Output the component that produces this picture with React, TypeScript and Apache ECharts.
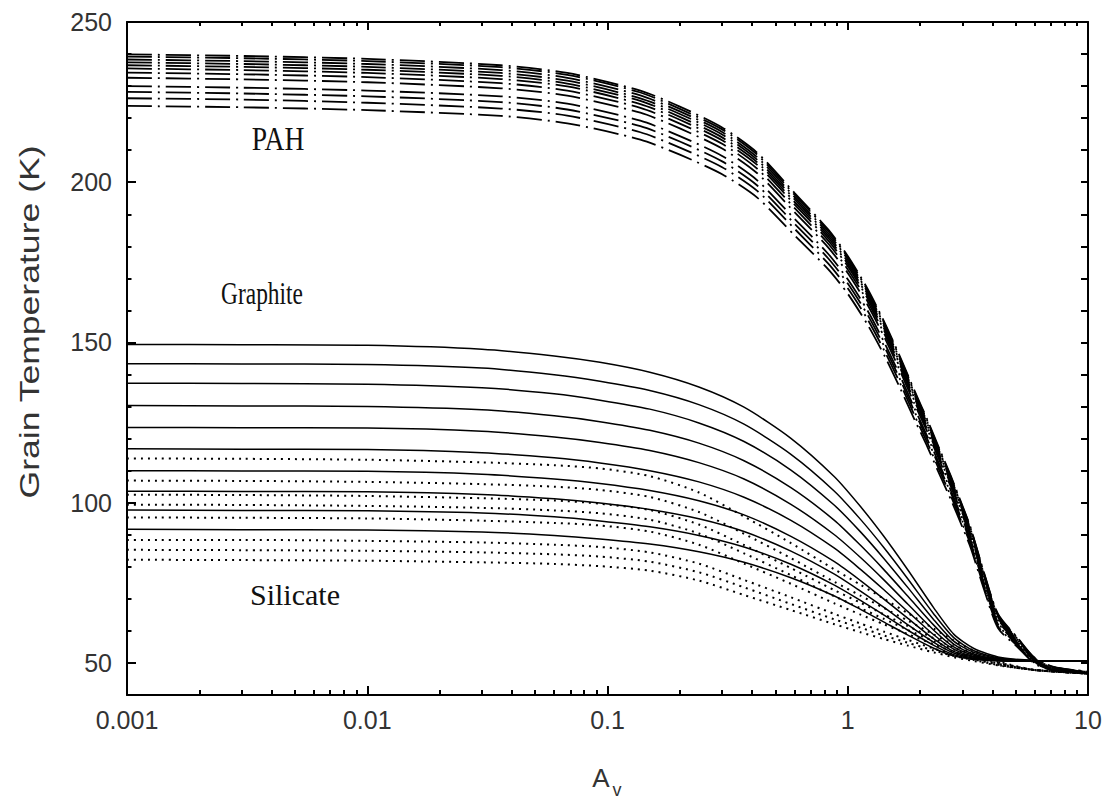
import React, { useEffect, useRef } from "react";
import * as echarts from "echarts";

// ---------- axis ticks ----------
const xMajorTicks = [0.001, 0.01, 0.1, 1, 10];
const xTickLabels = ["0.001", "0.01", "0.1", "1", "10"];
const xMinorTicks = [
  0.002, 0.003, 0.004, 0.005, 0.006, 0.007, 0.008, 0.009,
  0.02, 0.03, 0.04, 0.05, 0.06, 0.07, 0.08, 0.09,
  0.2, 0.3, 0.4, 0.5, 0.6, 0.7, 0.8, 0.9,
  2, 3, 4, 5, 6, 7, 8, 9,
];
const yMajorTicks = [50, 100, 150, 200, 250];
const yMinorTicks = [40, 60, 70, 80, 90, 110, 120, 130, 140, 160, 170, 180, 190, 210, 220, 230, 240];
const yRightTicks = [40, 50, 60, 70, 80, 90, 100, 110, 120, 130, 140, 150, 160, 170, 180, 190, 200, 210, 220, 230, 240];

// ---------- Graphite (solid) ----------
const graphiteAv = [0.001, 0.003, 0.01, 0.03, 0.06, 0.093, 0.15, 0.24, 0.37, 0.58, 0.88, 1.13, 1.41, 1.78, 2.28, 2.76, 3.35, 4.34, 6, 10];
const graphiteT = [
  [149.4, 149.3, 149.1, 147.9, 145.8, 143.8, 140.7, 136.1, 129.8, 120.1, 108.1, 98.8, 89.6, 79.0, 67.2, 59.0, 54.5, 51.7, 50.8, 50.5],
  [143.4, 143.3, 143.1, 142.0, 139.9, 137.9, 135.0, 130.6, 124.5, 115.1, 103.6, 94.8, 86.1, 76.2, 65.3, 57.9, 53.8, 51.5, 50.7, 50.5],
  [137.3, 137.2, 137.0, 135.9, 134.0, 132.0, 129.2, 124.9, 119.1, 110.2, 99.2, 90.9, 82.7, 73.5, 63.5, 56.8, 53.3, 51.3, 50.7, 50.5],
  [130.3, 130.2, 130.0, 129.0, 127.1, 125.3, 122.6, 118.6, 113.1, 104.7, 94.5, 86.7, 79.2, 70.8, 61.8, 55.9, 52.8, 51.1, 50.6, 50.5],
  [123.5, 123.4, 123.3, 122.3, 120.5, 118.8, 116.3, 112.5, 107.4, 99.5, 90.0, 82.9, 76.0, 68.3, 60.2, 55.0, 52.4, 51.0, 50.6, 50.5],
  [116.8, 116.7, 116.6, 115.6, 114.0, 112.4, 110.0, 106.5, 101.7, 94.5, 85.8, 79.2, 72.9, 66.0, 58.8, 54.3, 52.0, 50.9, 50.6, 50.5],
  [110.0, 109.9, 109.8, 108.9, 107.4, 106.0, 103.8, 100.6, 96.2, 89.5, 81.6, 75.7, 70.0, 63.9, 57.5, 53.6, 51.8, 50.8, 50.6, 50.5],
  [103.6, 103.5, 103.4, 102.6, 101.2, 99.9, 97.9, 95.0, 91.0, 84.9, 77.7, 72.4, 67.4, 61.9, 56.4, 53.1, 51.5, 50.7, 50.6, 50.5],
  [97.7, 97.6, 97.5, 96.8, 95.6, 94.3, 92.5, 89.8, 86.2, 80.8, 74.3, 69.5, 65.0, 60.2, 55.5, 52.6, 51.3, 50.7, 50.6, 50.5],
  [91.7, 91.6, 91.5, 90.9, 89.8, 88.7, 87.1, 84.7, 81.4, 76.6, 70.9, 66.7, 62.8, 58.7, 54.6, 52.2, 51.1, 50.7, 50.6, 50.5],
];

// ---------- Silicate (dotted) ----------
const silicateAv = [0.001, 0.003, 0.01, 0.03, 0.06, 0.093, 0.15, 0.24, 0.37, 0.58, 0.88, 1.13, 1.41, 1.78, 2.28, 2.76, 3.35, 4.34, 6, 10];
const silicateT = [
  [113.8, 113.7, 113.4, 112.6, 111.7, 110.7, 108.3, 103.2, 95.7, 87.4, 79.2, 74.4, 70.1, 65.5, 60.7, 57.0, 53.8, 50.3, 47.8, 46.7],
  [106.9, 106.8, 106.5, 105.8, 105.0, 104.0, 101.8, 97.1, 90.3, 82.7, 75.3, 71.0, 67.2, 63.2, 58.9, 55.7, 53.0, 50.0, 47.8, 46.7],
  [102.5, 102.4, 102.1, 101.4, 100.7, 99.7, 97.7, 93.2, 86.8, 79.6, 72.7, 68.8, 65.2, 61.5, 57.7, 54.8, 52.4, 49.8, 47.8, 46.7],
  [99.4, 99.3, 99.0, 98.4, 97.6, 96.7, 94.7, 90.4, 84.2, 77.4, 70.8, 67.1, 63.8, 60.3, 56.8, 54.2, 52.0, 49.6, 47.8, 46.7],
  [95.4, 95.3, 95.1, 94.4, 93.7, 92.9, 91.0, 86.9, 81.0, 74.7, 68.6, 65.1, 62.1, 59.0, 55.8, 53.5, 51.6, 49.5, 47.8, 46.7],
  [88.4, 88.4, 88.1, 87.6, 86.9, 86.2, 84.5, 81.0, 75.9, 70.5, 65.3, 62.3, 59.8, 57.2, 54.5, 52.6, 51.1, 49.3, 47.8, 46.7],
  [85.3, 85.2, 85.0, 84.5, 83.9, 83.2, 81.6, 78.3, 73.6, 68.4, 63.6, 61.0, 58.6, 56.3, 53.9, 52.2, 50.9, 49.2, 47.8, 46.7],
  [82.2, 82.1, 81.9, 81.4, 80.9, 80.2, 78.8, 75.7, 71.2, 66.5, 62.1, 59.6, 57.5, 55.4, 53.3, 51.8, 50.6, 49.1, 47.8, 46.7],
];

// ---------- PAH (dash-dot) ----------
const pahAv = [0.001, 0.003, 0.01, 0.036, 0.068, 0.137, 0.2, 0.3, 0.42, 0.6, 0.83, 1.0, 1.21, 1.43, 1.66, 1.9, 2.15, 2.42, 2.69, 3.0, 3.25, 3.69, 4.22, 5.1, 6.0, 7.2, 10];
const pahT = [
  [239.9, 239.4, 238.5, 236.5, 234.1, 228.6, 223.6, 217.1, 209.2, 196.7, 185.2, 177.0, 166.7, 155.9, 145.1, 134.8, 125.7, 116.4, 108.2, 99.1, 92.1, 78.2, 65.3, 57.8, 51.6, 48.8, 47.3],
  [239.2, 238.7, 237.8, 235.9, 233.5, 228.0, 222.9, 216.5, 208.6, 196.1, 184.7, 176.5, 166.2, 155.5, 144.7, 134.4, 125.3, 116.0, 107.9, 98.8, 91.9, 78.0, 65.1, 57.6, 51.5, 48.7, 47.3],
  [238.3, 237.8, 236.9, 235.0, 232.6, 227.1, 222.1, 215.7, 207.8, 195.4, 184.0, 175.9, 165.6, 154.9, 144.2, 133.9, 124.9, 115.6, 107.5, 98.4, 91.5, 77.7, 64.8, 57.4, 51.3, 48.6, 47.2],
  [237.4, 236.9, 236.0, 234.1, 231.7, 226.2, 221.3, 214.9, 207.0, 194.7, 183.3, 175.2, 165.0, 154.3, 143.6, 133.4, 124.4, 115.1, 107.1, 98.1, 91.2, 77.4, 64.6, 57.2, 51.2, 48.5, 47.2],
  [236.5, 236.0, 235.1, 233.2, 230.8, 225.4, 220.4, 214.0, 206.2, 193.9, 182.6, 174.5, 164.4, 153.7, 143.1, 132.9, 123.9, 114.7, 106.7, 97.7, 90.8, 77.1, 64.3, 57.0, 51.0, 48.4, 47.1],
  [235.5, 235.0, 234.1, 232.2, 229.9, 224.4, 219.5, 213.1, 205.4, 193.1, 181.8, 173.8, 163.7, 153.1, 142.5, 132.4, 123.4, 114.2, 106.2, 97.3, 90.4, 76.8, 64.1, 56.8, 50.9, 48.3, 47.1],
  [234.2, 233.7, 232.8, 230.9, 228.6, 223.2, 218.3, 212.0, 204.2, 192.0, 180.8, 172.8, 162.8, 152.2, 141.7, 131.6, 122.7, 113.6, 105.6, 96.7, 89.9, 76.4, 63.7, 56.5, 50.8, 48.2, 47.0],
  [232.6, 232.1, 231.2, 229.3, 227.0, 221.7, 216.8, 210.5, 202.8, 190.7, 179.6, 171.7, 161.7, 151.2, 140.7, 130.7, 121.9, 112.8, 104.9, 96.1, 89.3, 75.8, 63.3, 56.2, 50.6, 48.0, 46.9],
  [230.0, 229.5, 228.6, 226.8, 224.5, 219.2, 214.4, 208.2, 200.6, 188.6, 177.6, 169.7, 159.9, 149.5, 139.2, 129.3, 120.5, 111.6, 103.7, 95.0, 88.3, 75.0, 62.6, 55.8, 50.4, 47.9, 46.9],
  [228.2, 227.7, 226.8, 225.0, 222.7, 217.5, 212.7, 206.5, 199.0, 187.1, 176.2, 168.4, 158.6, 148.3, 138.1, 128.3, 119.6, 110.7, 102.9, 94.3, 87.6, 74.4, 62.1, 55.5, 50.2, 47.8, 46.8],
  [226.2, 225.8, 224.8, 223.0, 220.8, 215.6, 210.8, 204.7, 197.3, 185.5, 174.6, 166.9, 157.2, 147.0, 136.9, 127.1, 118.5, 109.7, 102.0, 93.4, 86.9, 73.7, 61.5, 55.2, 50.0, 47.7, 46.8],
  [223.8, 223.4, 222.5, 220.7, 218.4, 213.3, 208.6, 202.5, 195.2, 183.5, 172.8, 165.2, 155.5, 145.5, 135.4, 125.8, 117.3, 108.5, 100.9, 92.4, 85.9, 73.0, 60.9, 54.9, 49.8, 47.6, 46.7],
];

const xAxisTitle = "A";
const xAxisTitleSub = "v";
const yAxisTitle = "Grain Temperature (K)";
const labelPAH = "PAH";
const labelGraphite = "Graphite";
const labelSilicate = "Silicate";

export default function App() {
  const ref = useRef<HTMLDivElement>(null);

  useEffect(() => {
    document.body.style.margin = "0";
    if (!ref.current) return;
    const chart = echarts.init(ref.current, null, { renderer: "svg" });

    const black = "#000";
    const sans = "'Liberation Sans', Arial, sans-serif";
    const serif = "'Liberation Serif', 'Times New Roman', serif";
    const labelGray = "#333";

    const mkSeries = (name: string, av: number[], t: number[], lineStyle: any) => ({
      type: "line",
      name,
      data: av.map((a, j) => [a, t[j]]),
      showSymbol: false,
      symbol: "none",
      smooth: 0.25,
      silent: true,
      lineStyle,
      xAxisIndex: 0,
      yAxisIndex: 0,
    });

    const series: any[] = [];
    silicateT.forEach((t, i) =>
      series.push(mkSeries(`Silicate ${i + 1}`, silicateAv, t, { color: black, width: 2, type: [2, 5], cap: "butt" }))
    );
    graphiteT.forEach((t, i) =>
      series.push(mkSeries(`Graphite ${i + 1}`, graphiteAv, t, { color: black, width: 1.5, type: "solid" }))
    );
    pahT.forEach((t, i) =>
      series.push(mkSeries(`PAH ${i + 1}`, pahAv, t, { color: black, width: 1.8, type: [25, 6, 2, 6] }))
    );

    const tickLine = { color: black, width: 2 };
    const baseX = { type: "log", logBase: 10, min: 0.001, max: 10, splitLine: { show: false } };
    const baseY = { type: "value", min: 40, max: 250, splitLine: { show: false } };

    const centered = { align: "center", verticalAlign: "middle", textAlign: "center", textVerticalAlign: "middle" };

    const option: any = {
      animation: false,
      backgroundColor: "#fff",
      grid: { left: 127, right: 23, top: 22, bottom: 107, containLabel: false },
      xAxis: [
        {
          ...baseX,
          position: "bottom",
          axisLine: { show: true, lineStyle: { color: black, width: 2 } },
          axisTick: { show: true, inside: true, length: 9, customValues: xMajorTicks, lineStyle: tickLine },
          axisLabel: {
            show: true,
            customValues: xMajorTicks,
            formatter: (v: number) => xTickLabels[Math.round(Math.log10(v)) + 3],
            fontSize: 25,
            fontFamily: sans,
            color: labelGray,
            margin: 12,
          },
        },
        {
          ...baseX,
          position: "bottom",
          axisLine: { show: false },
          axisTick: { show: true, inside: true, length: 5, customValues: xMinorTicks, lineStyle: tickLine },
          axisLabel: { show: false },
        },
        {
          ...baseX,
          position: "top",
          axisLine: { show: true, lineStyle: { color: black, width: 2 } },
          axisTick: { show: true, inside: true, length: 8, customValues: xMajorTicks, lineStyle: tickLine },
          axisLabel: { show: false },
        },
        {
          ...baseX,
          position: "top",
          axisLine: { show: false },
          axisTick: { show: true, inside: true, length: 4, customValues: xMinorTicks, lineStyle: tickLine },
          axisLabel: { show: false },
        },
      ],
      yAxis: [
        {
          ...baseY,
          position: "left",
          axisLine: { show: true, lineStyle: { color: black, width: 2 } },
          axisTick: { show: true, inside: true, length: 9, customValues: yMajorTicks, lineStyle: tickLine },
          axisLabel: {
            show: true,
            customValues: yMajorTicks,
            fontSize: 25,
            fontFamily: sans,
            color: labelGray,
            margin: 15,
          },
        },
        {
          ...baseY,
          position: "left",
          axisLine: { show: false },
          axisTick: { show: true, inside: true, length: 4.5, customValues: yMinorTicks, lineStyle: tickLine },
          axisLabel: { show: false },
        },
        {
          ...baseY,
          position: "right",
          axisLine: { show: true, lineStyle: { color: black, width: 2 } },
          axisTick: { show: true, inside: true, length: 7, customValues: yRightTicks, lineStyle: tickLine },
          axisLabel: { show: false },
        },
      ],
      graphic: [
        {
          type: "text",
          x: 29,
          y: 322,
          rotation: Math.PI / 2,
          scaleX: 1.27,
          style: { text: yAxisTitle, font: `28px ${sans}`, fill: labelGray, ...centered },
        },
        {
          type: "text",
          x: 601,
          y: 778,
          style: { text: xAxisTitle, font: `26px ${sans}`, fill: labelGray, ...centered },
        },
        {
          type: "text",
          x: 617,
          y: 790,
          style: { text: xAxisTitleSub, font: `18px ${sans}`, fill: labelGray, ...centered },
        },
        {
          type: "text",
          x: 278,
          y: 139,
          scaleX: 0.92,
          scaleY: 1.12,
          style: { text: labelPAH, font: `30px ${serif}`, fill: "#111", ...centered },
        },
        {
          type: "text",
          x: 262,
          y: 293,
          scaleX: 0.9,
          scaleY: 1.25,
          style: { text: labelGraphite, font: `26px ${serif}`, fill: "#111", ...centered },
        },
        {
          type: "text",
          x: 295,
          y: 594,
          style: { text: labelSilicate, font: `30px ${serif}`, fill: "#111", ...centered },
        },
      ],
      series,
    };

    chart.setOption(option);
    return () => chart.dispose();
  }, []);

  return <div ref={ref} style={{ width: 1111, height: 802, overflow: "hidden", background: "#fff" }} />;
}
